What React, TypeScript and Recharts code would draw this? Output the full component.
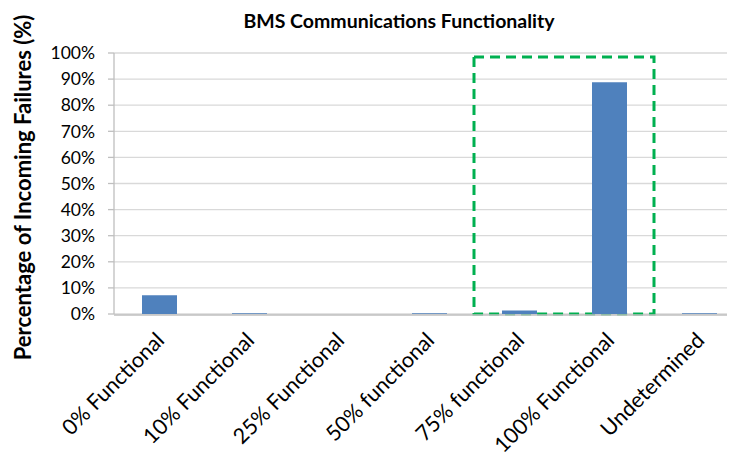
import { BarChart, Bar, XAxis, YAxis, CartesianGrid, ReferenceArea } from 'recharts'

const categories = [
  '0% Functional',
  '10% Functional',
  '25% Functional',
  '50% functional',
  '75% functional',
  '100% Functional',
  'Undetermined',
]
const failurePct = [7.2, 0.3, 0, 0.3, 1.3, 88.8, 0.3]
const yTicks = [0, 10, 20, 30, 40, 50, 60, 70, 80, 90, 100]
const edgeTicks = [0, 1, 2, 3, 4, 5, 6, 7]
const highlightFrom = '75% functional'
const highlightTo = '100% Functional'
const highlightTop = 98.5

const data = categories.map((name, i) => ({ name, value: failurePct[i] }))

const FONT = 'Lato, "Open Sans", sans-serif'
const GRID = '#d9d9d9'
const AXIS = '#bfbfbf'

function CategoryTick({ x, y, payload }: any) {
  const ax = x + 1
  const ay = y + 14
  return (
    <text
      x={ax}
      y={ay}
      transform={`rotate(-45 ${ax} ${ay})`}
      textAnchor="end"
      dominantBaseline="central"
      fontFamily={FONT}
      fontSize={21.5}
      fill="#000"
    >
      {payload.value}
    </text>
  )
}

function YTitle({ viewBox }: any) {
  const x = viewBox.x + 14
  const y = viewBox.y + viewBox.height / 2 + 4
  return (
    <text
      x={x}
      y={y}
      transform={`rotate(-90 ${x} ${y})`}
      textAnchor="middle"
      dominantBaseline="central"
      fontFamily={FONT}
      fontWeight="bold"
      fontSize={22}
      fill="#000"
    >
      Percentage of Incoming Failures (%)
    </text>
  )
}

export default function App() {
  return (
    <div style={{ position: 'relative', width: 727, height: 454, overflow: 'hidden', background: '#fff' }}>
      <div
        style={{
          position: 'absolute',
          left: 0,
          top: 1,
          width: 782,
          textAlign: 'center',
          fontFamily: FONT,
          fontWeight: 'bold',
          fontSize: 19.5,
          color: '#000',
        }}
      >
        BMS Communications Functionality
      </div>
      <BarChart
        width={740}
        height={450}
        data={data}
        margin={{ top: 45, right: 4, bottom: 142, left: 0 }}
      >
        <CartesianGrid vertical={false} stroke={GRID} strokeWidth={1.3} />
        <XAxis
          dataKey="name"
          height={1}
          axisLine={false}
          tickLine={false}
          tickSize={6}
          tickMargin={2}
          interval={0}
          tick={<CategoryTick />}
        />
        <XAxis
          xAxisId="edges"
          type="number"
          domain={[0, 7]}
          ticks={edgeTicks}
          height={1}
          tick={false}
          tickSize={6}
          axisLine={{ stroke: AXIS, strokeWidth: 1.3 }}
          tickLine={{ stroke: AXIS, strokeWidth: 1.3 }}
        />
        <YAxis
          width={106}
          domain={[0, 100]}
          ticks={yTicks}
          interval={0}
          tickFormatter={(v: number) => `${v}%`}
          tickSize={6}
          tickMargin={13}
          axisLine={{ stroke: AXIS, strokeWidth: 1.3 }}
          tickLine={{ stroke: AXIS, strokeWidth: 1.3 }}
          tick={{ fill: '#000', fontSize: 17.5, fontFamily: FONT }}
          label={<YTitle />}
        />
        <Bar dataKey="value" fill="#4F81BD" barSize={35} isAnimationActive={false} />
        <ReferenceArea
          x1={highlightFrom}
          x2={highlightTo}
          y1={0}
          y2={highlightTop}
          fill="none"
          fillOpacity={0}
          stroke="#00B050"
          strokeWidth={3}
          strokeDasharray="10 6"
          ifOverflow="visible"
        />
      </BarChart>
    </div>
  )
}
